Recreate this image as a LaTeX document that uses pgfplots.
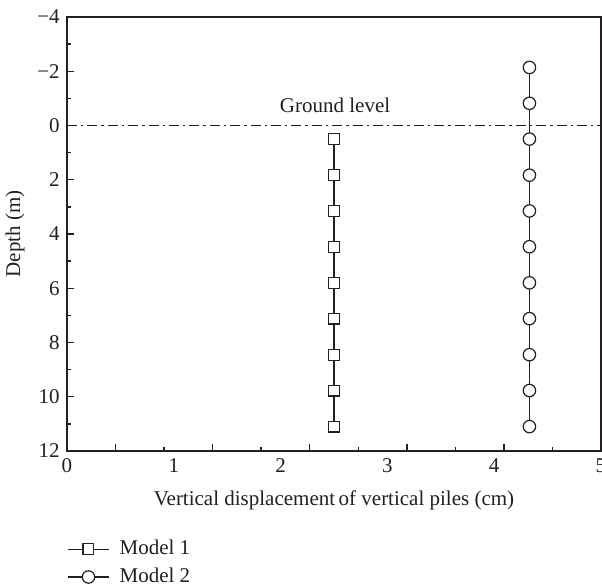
\documentclass[border=0pt]{standalone}
\usepackage{fontspec}
\setmainfont{Liberation Serif}
\usepackage{pgfplots}
\pgfplotsset{compat=1.18}
\definecolor{ink}{HTML}{231F20}
\begin{document}
\fontsize{10.5}{12.6}\selectfont
\begin{tikzpicture}[font=\fontsize{10.5}{12.6}\selectfont]
\begin{axis}[
  scale only axis,
  width=267pt, height=217pt,
  xmin=0, xmax=5, ymin=-4, ymax=12,
  y dir=reverse,
  axis line style={ink, line width=0.9pt},
  tick style={ink, line width=0.7pt},
  tick align=inside,
  xtick pos=bottom, ytick pos=left,
  xtick={0.4545,1.3636,2.2727,3.1818,4.0909},
  xticklabels={,,,,},
  minor xtick={0.9091,1.8182,2.7273,3.6364,4.5455},
  major tick length=3.5pt, minor tick length=1.8pt,
  extra x ticks={0,1,2,3,4,5},
  extra x tick labels={0,1,2,3,4,5},
  extra x tick style={major tick length=0pt},
  ytick={-4,-2,0,2,4,6,8,10,12},
  yticklabels={−4,−2,0,2,4,6,8,10,12},
  minor y tick num=1,
  tick label style={text=ink},
  xlabel={Vertical displacement\,of vertical piles (cm)},
  ylabel={Depth (m)},
  xlabel style={at={(axis description cs:0.5,-0.113)}, anchor=center, text=ink},
  ylabel style={at={(axis description cs:-0.0974,0.5)}, anchor=center, text=ink},
  legend style={draw=none, fill=none, at={(axis description cs:0,0)}, anchor=north west,
    yshift=-42.5pt, inner sep=0pt, row sep=1pt, column sep=3pt, text=ink,
    cells={anchor=west}},
  legend cell align=left,
  legend image code/.code={\draw[mark repeat=2,mark phase=2] plot coordinates {(0pt,0pt) (10.25pt,0pt) (20.5pt,0pt)};},
  clip=false,
]
\addplot[forget plot, ink, line width=0.6pt, dash pattern=on 5pt off 2pt on 1.2pt off 2pt]
  coordinates {(0,0) (5,0)};
\addplot[ink, line width=0.6pt, mark=square*, mark size=2.7pt, mark options={solid, fill=white, draw=ink, line width=0.6pt}]
  coordinates {(2.50,0.50) (2.50,1.83) (2.50,3.15) (2.50,4.47) (2.50,5.80) (2.50,7.12) (2.50,8.45) (2.50,9.77) (2.50,11.10)};
\addlegendentry{Model 1}
\addplot[ink, line width=0.6pt, mark=*, mark size=3.1pt, mark options={solid, fill=white, draw=ink, line width=0.6pt}]
  coordinates {(4.33,-2.14) (4.33,-0.82) (4.33,0.50) (4.33,1.83) (4.33,3.15) (4.33,4.47) (4.33,5.80) (4.33,7.12) (4.33,8.45) (4.33,9.77) (4.33,11.10)};
\addlegendentry{Model 2}
\node[text=ink] at (axis cs:2.51,-0.75) {Ground level};
\end{axis}
\pgfresetboundingbox
\path (-33.5pt,-67.5pt) rectangle (267.5pt,225.5pt);
\end{tikzpicture}
\end{document}
